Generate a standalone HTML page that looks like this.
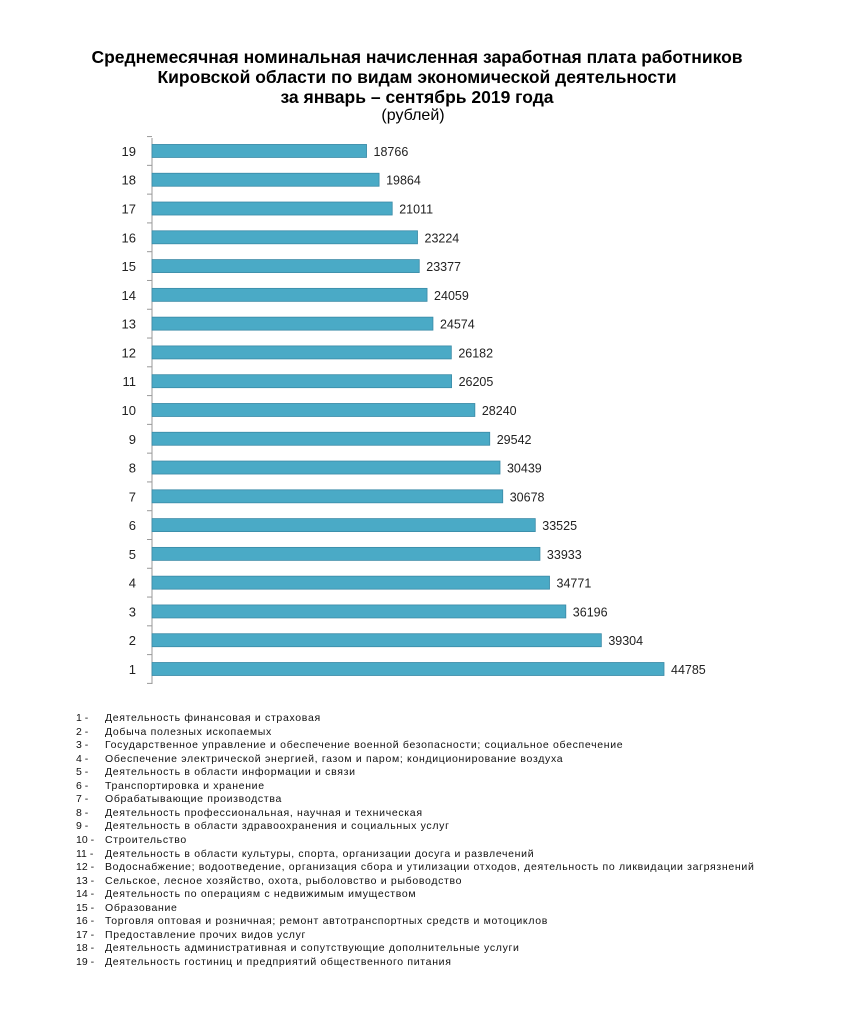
<!DOCTYPE html>
<html><head><meta charset="utf-8"><style>
body{margin:0;background:#fff;width:846px;height:1031px;overflow:hidden;font-family:"Liberation Sans",sans-serif}
.t{position:absolute;left:0;width:834px;text-align:center;font-weight:bold;font-size:17.5px;color:#000}
.lg{position:absolute;font-size:10.5px;letter-spacing:0.68px;color:#111;white-space:nowrap}
</style></head><body>
<div class="t" style="top:47px;line-height:20px">Среднемесячная номинальная начисленная заработная плата работников<br>Кировской области по видам экономической деятельности<br>за январь – сентябрь 2019 года</div>
<div class="t" style="top:107px;font-weight:normal;font-size:16px;left:-4px">(рублей)</div>
<svg id="c" width="846" height="1031" style="position:absolute;left:0;top:0"></svg>
<div id="lg"></div>
<script>
const categories=["1","2","3","4","5","6","7","8","9","10","11","12","13","14","15","16","17","18","19"];
const values=[44785,39304,36196,34771,33933,33525,30678,30439,29542,28240,26205,26182,24574,24059,23377,23224,21011,19864,18766];
const legendLabels=["Деятельность финансовая и страховая","Добыча полезных ископаемых","Государственное управление и обеспечение военной безопасности; социальное обеспечение","Обеспечение электрической энергией, газом и паром; кондиционирование воздуха","Деятельность в области информации и связи","Транспортировка и хранение","Обрабатывающие производства","Деятельность профессиональная, научная и техническая","Деятельность в области здравоохранения и социальных услуг","Строительство","Деятельность в области культуры, спорта, организации досуга и развлечений","Водоснабжение; водоотведение, организация сбора и утилизации отходов, деятельность по ликвидации загрязнений","Сельское, лесное хозяйство, охота, рыболовство и рыбоводство","Деятельность по операциям с недвижимым имуществом","Образование","Торговля оптовая и розничная; ремонт автотранспортных средств и мотоциклов","Предоставление прочих видов услуг","Деятельность административная и сопутствующие дополнительные услуги","Деятельность гостиниц и предприятий общественного питания"];
const NS="http://www.w3.org/2000/svg",svg=document.getElementById('c');
const x0=152,xs=v=>x0+v*(662-150)/44785;
const yc=i=>669-i*28.78;
function mk(t,a){const e=document.createElementNS(NS,t);for(const k in a)e.setAttribute(k,a[k]);svg.appendChild(e);return e;}
let ax=mk('line',{x1:x0,y1:138,x2:x0,y2:684,stroke:'#999','stroke-width':1});


for(let i=0;i<=categories.length;i++){const y=yc(i)+14.39;mk('line',{x1:x0-5,y1:y,x2:x0,y2:y,stroke:'#999'});}
categories.forEach((c,i)=>{
 const y=yc(i);
 const r=mk('rect',{x:x0,y:y-6.5,width:xs(values[i])-x0,height:13,fill:'#4aaac6',stroke:'#3a8aa6','stroke-width':0.8});
 
 
 const l=mk('text',{x:136,y:y+5,'text-anchor':'end','font-size':13,fill:'#222','font-family':'Liberation Sans, sans-serif'});l.textContent=c;
 
 
 const v=mk('text',{x:xs(values[i])+7,y:y+5,'font-size':12.5,fill:'#222','font-family':'Liberation Sans, sans-serif'});v.textContent=values[i];
 
 
});
const lg=document.getElementById('lg');
legendLabels.forEach((t,i)=>{
 const d=document.createElement('div');d.className='lg';d.style.top=(712+i*13.55)+'px';d.style.left='76px';
 d.innerHTML='<span style="display:inline-block;width:29px;letter-spacing:0">'+(i+1)+' -</span>'+t;
 
 
 lg.appendChild(d);
});
</script>
</body></html>
